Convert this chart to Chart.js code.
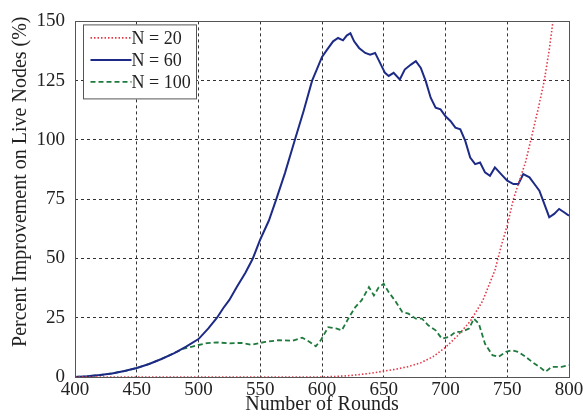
<!DOCTYPE html>
<html>
<head>
<meta charset="utf-8">
<script src="https://cdn.jsdelivr.net/npm/chart.js@4.4.1/dist/chart.umd.min.js"></script>
<style>
  html, body { margin: 0; padding: 0; background: #ffffff; }
  #c { display: block; }
</style>
</head>
<body>
<canvas id="c" width="583" height="419"></canvas>
<script>
// ---- data ----
const xTicks = [400, 450, 500, 550, 600, 650, 700, 750, 800];
const yTicks = [0, 25, 50, 75, 100, 125, 150];

const seriesLabels = ['N = 20', 'N = 60', 'N = 100'];

const roundsN20 = [400, 450, 500, 550, 600, 610, 620, 630, 640, 650, 660, 670, 680, 690, 700, 710, 720, 730, 740, 745, 750, 755, 760, 765, 770, 775, 780, 784, 787];
const valuesN20 = [0, 0, 0, 0, 0, 0.2, 0.5, 1.0, 1.6, 2.5, 3.3, 4.4, 6.0, 8.6, 12.5, 17.5, 23.5, 32, 45, 55, 64, 75, 83, 91, 102, 113, 125, 138, 150];

const roundsN60 = [400, 410, 420, 430, 440, 450, 460, 470, 480, 490, 500, 508, 515, 520, 525, 531, 538, 544, 550, 557, 563, 570, 578, 585, 592, 596, 600, 604, 609, 613, 617, 620, 623, 626, 630, 635, 639, 643, 647, 651, 654, 658, 663, 667, 672, 676, 680, 684, 688, 692, 696, 700, 704, 708, 712, 716, 720, 724, 728, 732, 736, 740, 745, 750, 755, 759, 763, 768, 772, 776, 780, 784, 788, 792, 796, 800];
const valuesN60 = [0, 0.3, 0.8, 1.5, 2.5, 3.8, 5.5, 7.6, 10, 12.8, 16, 20.5, 25, 29, 32.5, 38, 44, 50, 58, 66, 75, 86, 100, 112, 125, 130, 135, 138, 141.6, 143, 142, 144, 145, 141.6, 138.8, 136.7, 136, 136.7, 132.5, 128.3, 127, 128.3, 125.5, 129.7, 131.8, 133.2, 130.4, 124.8, 117.8, 113.6, 112.9, 110, 108, 105.2, 104.5, 99.6, 92.6, 89.8, 90.5, 86.3, 84.9, 88.4, 85.6, 82.8, 81.4, 81.4, 85.6, 84.2, 81.4, 78.6, 73, 67.4, 68.8, 70.9, 69.5, 68];

const roundsN100 = [400, 410, 420, 430, 440, 450, 460, 470, 480, 488, 495, 500, 507, 515, 525, 535, 543, 554, 565, 576, 584, 590, 595, 599, 605, 612, 616, 622, 627, 632, 638, 642, 646, 650, 654, 659, 665, 670, 676, 681, 686, 692, 697, 703, 708, 713, 719, 723, 727, 732, 738, 743, 749, 754, 759, 765, 770, 776, 781, 786, 794, 800];
const valuesN100 = [0, 0.3, 0.8, 1.5, 2.5, 3.8, 5.5, 7.6, 10, 12, 12.8, 13.5, 14.3, 14.6, 14.2, 14.4, 13.6, 14.8, 15.5, 15.3, 16.6, 14.8, 13, 15.5, 21, 20.4, 19.7, 25.3, 29.5, 32.3, 37.9, 34.4, 37.9, 39.3, 35.8, 32.3, 27.4, 26.7, 24.6, 24.6, 21.8, 19.7, 16.2, 16.9, 19, 19, 20.4, 24.6, 22.5, 14, 9.2, 8.5, 10.6, 11.3, 10.6, 8.5, 6.4, 4.3, 2.2, 4.3, 4.3, 5];

const toPoints = (xs, ys) => xs.map((x, i) => ({ x: x, y: ys[i] }));

const SERIF = "'Liberation Serif', 'Times New Roman', serif";
const TEXT = '#222222';

// frame around plot area (solid) + internal legend box
const framePlugin = {
  id: 'frame',
  afterDraw(chart) {
    const { ctx, chartArea: a } = chart;
    ctx.save();
    ctx.strokeStyle = '#555555';
    ctx.lineWidth = 1;
    ctx.setLineDash([]);
    ctx.strokeRect(Math.round(a.left) + 0.5, Math.round(a.top) + 0.5,
                   Math.round(a.right - a.left), Math.round(a.bottom - a.top));
    ctx.restore();
  }
};

const boxLegendPlugin = {
  id: 'boxLegend',
  afterDraw(chart) {
    const { ctx, chartArea: a } = chart;
    const bx = a.left + 8.5, by = a.top + 3.5, bw = 113, bh = 74;
    ctx.save();
    ctx.fillStyle = '#ffffff';
    ctx.fillRect(bx, by, bw, bh);
    ctx.strokeStyle = '#555555';
    ctx.lineWidth = 1;
    ctx.setLineDash([]);
    ctx.strokeRect(bx, by, bw, bh);
    ctx.font = '18px ' + SERIF;
    ctx.textBaseline = 'middle';
    ctx.textAlign = 'left';
    chart.data.datasets.forEach((ds, i) => {
      const y = by + 13 + i * 22;
      ctx.beginPath();
      ctx.strokeStyle = ds.borderColor;
      ctx.lineWidth = ds.borderWidth;
      ctx.setLineDash(ds.borderDash || []);
      ctx.moveTo(bx + 7, y);
      ctx.lineTo(bx + 48, y);
      ctx.stroke();
      ctx.setLineDash([]);
      ctx.fillStyle = TEXT;
      ctx.fillText(ds.label, bx + 48, y + 1);
    });
    ctx.restore();
  }
};

new Chart(document.getElementById('c'), {
  type: 'line',
  data: {
    datasets: [
      { label: seriesLabels[0], data: toPoints(roundsN20, valuesN20),
        borderColor: '#e23a48', borderWidth: 1.6, borderDash: [1.5, 2], pointRadius: 0 },
      { label: seriesLabels[1], data: toPoints(roundsN60, valuesN60),
        borderColor: '#1d2a86', borderWidth: 2, borderDash: [], pointRadius: 0 },
      { label: seriesLabels[2], data: toPoints(roundsN100, valuesN100),
        borderColor: '#1f7a3e', borderWidth: 1.8, borderDash: [5, 3], pointRadius: 0 }
    ]
  },
  options: {
    responsive: false,
    animation: false,
    devicePixelRatio: 1,
    layout: { padding: { left: 0, right: 14, top: 20, bottom: 0 } },
    elements: { line: { tension: 0, fill: false }, point: { radius: 0 } },
    plugins: { legend: { display: false }, tooltip: { enabled: false } },
    scales: {
      x: {
        type: 'linear', min: 400, max: 800,
        afterBuildTicks: (s) => { s.ticks = xTicks.map(v => ({ value: v })); },
        ticks: { font: { family: SERIF, size: 19 }, color: TEXT, padding: 2, maxRotation: 0, autoSkip: false },
        grid: { color: '#333333', lineWidth: 1, drawTicks: false },
        border: { display: false, dash: [3, 3] },
        title: { display: true, text: 'Number of Rounds', color: TEXT,
                 font: { family: SERIF, size: 20, lineHeight: 1.2 }, padding: { top: 0, bottom: 2 } },
        afterFit: (s) => { s.height = 42; s.paddingLeft = 0; s.paddingRight = 0; }
      },
      y: {
        type: 'linear', min: 0, max: 150,
        afterBuildTicks: (s) => { s.ticks = yTicks.map(v => ({ value: v })); },
        ticks: { font: { family: SERIF, size: 19 }, color: TEXT, padding: 10 },
        grid: { color: '#333333', lineWidth: 1, drawTicks: false },
        border: { display: false, dash: [3, 3] },
        title: { display: true, text: '       Percent Improvement on Live Nodes (%)', color: TEXT,
                 font: { family: SERIF, size: 20, lineHeight: 1.2 }, padding: { top: 9, bottom: 0 } },
        afterFit: (s) => { s.width = 75; }
      }
    }
  },
  plugins: [framePlugin, boxLegendPlugin]
});
</script>
</body>
</html>
